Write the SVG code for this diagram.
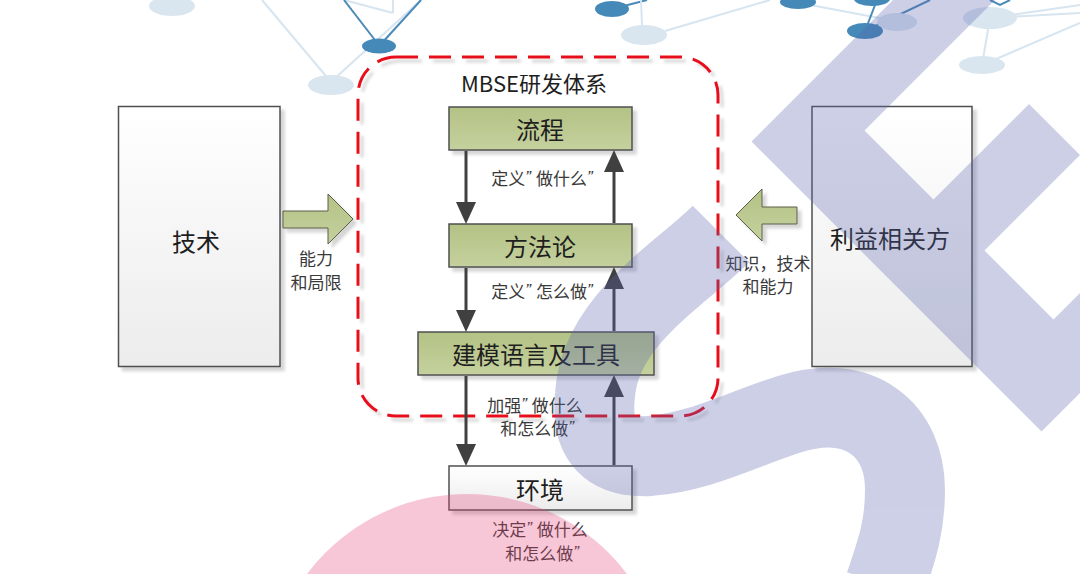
<svg xmlns="http://www.w3.org/2000/svg" width="1080" height="574" viewBox="0 0 1080 574">
<defs>
<style>
.box{stroke:#505050;stroke-width:1.5}
.green{fill:url(#gGreen)}
.gray{fill:url(#gGray)}
.t{font-family:"Noto Sans CJK SC","Noto Sans",sans-serif;fill:#1e1e1e;text-anchor:middle;dominant-baseline:central}
.big{font-size:24px}
.lbl{font-size:17px;fill:#3a3a3a}
.side{font-size:17px;fill:#3a3a3a}
.q{font-family:"Liberation Sans",sans-serif;font-style:italic}
.conn{stroke:#404040;stroke-width:3;fill:none;marker-end:url(#ah)}
.blk{fill:url(#gGreen);stroke:#5a5f48;stroke-width:1}
.lt{stroke:#d6e5f0;stroke-width:2;fill:none}
.dk{stroke:#4a8ab9;stroke-width:2;fill:none}
.ln{fill:#d9e6f0}
.dn{fill:#4589b9}
</style>
<linearGradient id="gGreen" x1="0" y1="0" x2="0" y2="1">
<stop offset="0" stop-color="#b3c285"/>
<stop offset="1" stop-color="#c5d19e"/>
</linearGradient>
<linearGradient id="gGray" x1="0" y1="0" x2="0" y2="1">
<stop offset="0" stop-color="#ffffff"/>
<stop offset="1" stop-color="#ececec"/>
</linearGradient>
<filter id="sh" x="-10%" y="-10%" width="130%" height="130%">
<feDropShadow dx="4" dy="4" stdDeviation="1.5" flood-color="#000" flood-opacity="0.16"/>
</filter>
<marker id="ah" viewBox="0 0 22 20" markerWidth="22" markerHeight="20" refX="10" refY="10" orient="auto" markerUnits="userSpaceOnUse">
<path d="M0,0 L22,10 L0,20 z" fill="#404040"/>
</marker>
</defs>

<g id="background-network">
<line class="lt" x1="262" y1="0" x2="331" y2="82"/>
<line class="lt" x1="421" y1="0" x2="333" y2="80"/>
<line class="lt" x1="344" y1="0" x2="393" y2="13"/>
<line class="lt" x1="393" y1="0" x2="393" y2="13"/>
<line class="dk" x1="344" y1="0" x2="378" y2="44"/>
<line class="dk" x1="421" y1="0" x2="381" y2="44"/>
<ellipse class="ln" cx="172" cy="6" rx="23" ry="10"/>
<ellipse class="dn" cx="379" cy="46" rx="17" ry="7.5"/>
<ellipse class="ln" cx="331" cy="85" rx="23" ry="10"/>
<line class="dk" x1="620" y1="7" x2="647" y2="0"/>
<line class="lt" x1="642" y1="25" x2="641" y2="0"/>
<line class="lt" x1="665" y1="31" x2="770" y2="0"/>
<line class="lt" x1="805" y1="4" x2="890" y2="20"/>
<line class="dk" x1="865" y1="31" x2="877" y2="0"/>
<line class="dk" x1="865" y1="31" x2="930" y2="0"/>
<line class="lt" x1="990" y1="18" x2="1080" y2="5"/>
<line class="lt" x1="990" y1="18" x2="1080" y2="13"/>
<line class="lt" x1="990" y1="18" x2="982" y2="65"/>
<line class="lt" x1="982" y1="65" x2="1080" y2="23"/>
<path class="dk" d="M990,0 L1000,5 L1010,0" stroke-width="1.2"/>
<ellipse class="dn" cx="612" cy="9" rx="17" ry="8"/>
<ellipse class="ln" cx="644" cy="35" rx="23" ry="10"/>
<ellipse class="dn" cx="798" cy="2" rx="18" ry="7"/>
<ellipse class="dn" cx="872" cy="-1" rx="18" ry="7"/>
<ellipse class="ln" cx="897" cy="22" rx="20" ry="9"/>
<ellipse class="dn" cx="865" cy="31" rx="18" ry="8"/>
<ellipse class="ln" cx="990" cy="18" rx="27" ry="11"/>
<ellipse class="ln" cx="982" cy="65" rx="23" ry="9"/>
</g>

<g id="mbse-boundary">
<rect x="358" y="57" width="360" height="359" rx="38" fill="none" stroke="#e8101c" stroke-width="3" stroke-dasharray="22 11" filter="url(#sh)"/>
<text class="t" x="534" y="82" font-size="22">MBSE研发体系</text>
</g>

<g id="node-tech">
<rect class="box gray" x="118.5" y="106.5" width="161.5" height="260" filter="url(#sh)"/>
<text class="t big" x="196" y="240">技术</text>
</g>

<g id="node-stakeholders">
<rect class="box gray" x="812" y="106.5" width="160" height="260" filter="url(#sh)"/>
<text class="t big" x="890" y="237">利益相关方</text>
</g>

<g id="node-process">
<rect class="box green" x="449" y="107" width="183" height="43" filter="url(#sh)"/>
<text class="t big" x="540" y="128.5">流程</text>
</g>

<g id="node-methodology">
<rect class="box green" x="449" y="224" width="183" height="43" filter="url(#sh)"/>
<text class="t big" x="540" y="245.5">方法论</text>
</g>

<g id="node-modeling">
<rect class="box green" x="418" y="332" width="236" height="43" filter="url(#sh)"/>
<text class="t big" x="536" y="353.5">建模语言及工具</text>
</g>

<g id="node-environment">
<rect class="box gray" x="449" y="466" width="183" height="44" filter="url(#sh)"/>
<text class="t big" x="540" y="488">环境</text>
</g>

<g id="connectors">
<path class="conn" d="M466,151 L466,212"/>
<path class="conn" d="M614,223 L614,162"/>
<path class="conn" d="M466,268 L466,320"/>
<path class="conn" d="M614,331 L614,279"/>
<path class="conn" d="M466,376 L466,454"/>
<path class="conn" d="M614,465 L614,387"/>
<polygon class="blk" points="283,211 328,211 328,194 353,219 328,244 328,228 283,228" filter="url(#sh)"/>
<polygon class="blk" points="797,207 762,207 762,189 736,215 762,241 762,224 797,224" filter="url(#sh)"/>
<text class="t lbl" x="542" y="177">定义<tspan class="q" dx="0">”</tspan><tspan dx="5">做什么</tspan><tspan class="q" dx="0">”</tspan></text>
<text class="t lbl" x="542" y="290">定义<tspan class="q" dx="0">”</tspan><tspan dx="5">怎么做</tspan><tspan class="q" dx="0">”</tspan></text>
<text class="t lbl" x="535" y="404">加强<tspan class="q" dx="0">”</tspan><tspan dx="5">做什么</tspan></text>
<text class="t lbl" x="537" y="427">和怎么做<tspan class="q" dx="0">”</tspan></text>
<text class="t lbl" x="540" y="528">决定<tspan class="q" dx="0">”</tspan><tspan dx="5">做什么</tspan></text>
<text class="t lbl" x="542" y="552">和怎么做<tspan class="q" dx="0">”</tspan></text>
<text class="t side" x="316" y="257">能力</text>
<text class="t side" x="316" y="281">和局限</text>
<text class="t side" x="768" y="262">知识，技术</text>
<text class="t side" x="768" y="285">和能力</text>
</g>

<g id="watermark">
<g opacity="0.3">
<path d="M721,234 C680,275 600,320 595,395 C590,440 610,458 650,456 C700,452 740,430 790,414 C860,392 905,430 905,490 C905,530 895,555 885,585" fill="none" stroke="#5a64ad" stroke-width="80"/>
<polygon fill="#5a64ad" points="751.5,141.5 946.5,-53.5 997.5,-2.5 864.5,130.5 933.5,199.5 1029,104 1080,155 984.5,250.5 1053.5,319.5 1286.5,86.5 1336.5,136.5 1041.5,431.5"/>
</g>
<circle cx="467" cy="694" r="200" fill="#e8467a" opacity="0.3"/>
</g>
</svg>
